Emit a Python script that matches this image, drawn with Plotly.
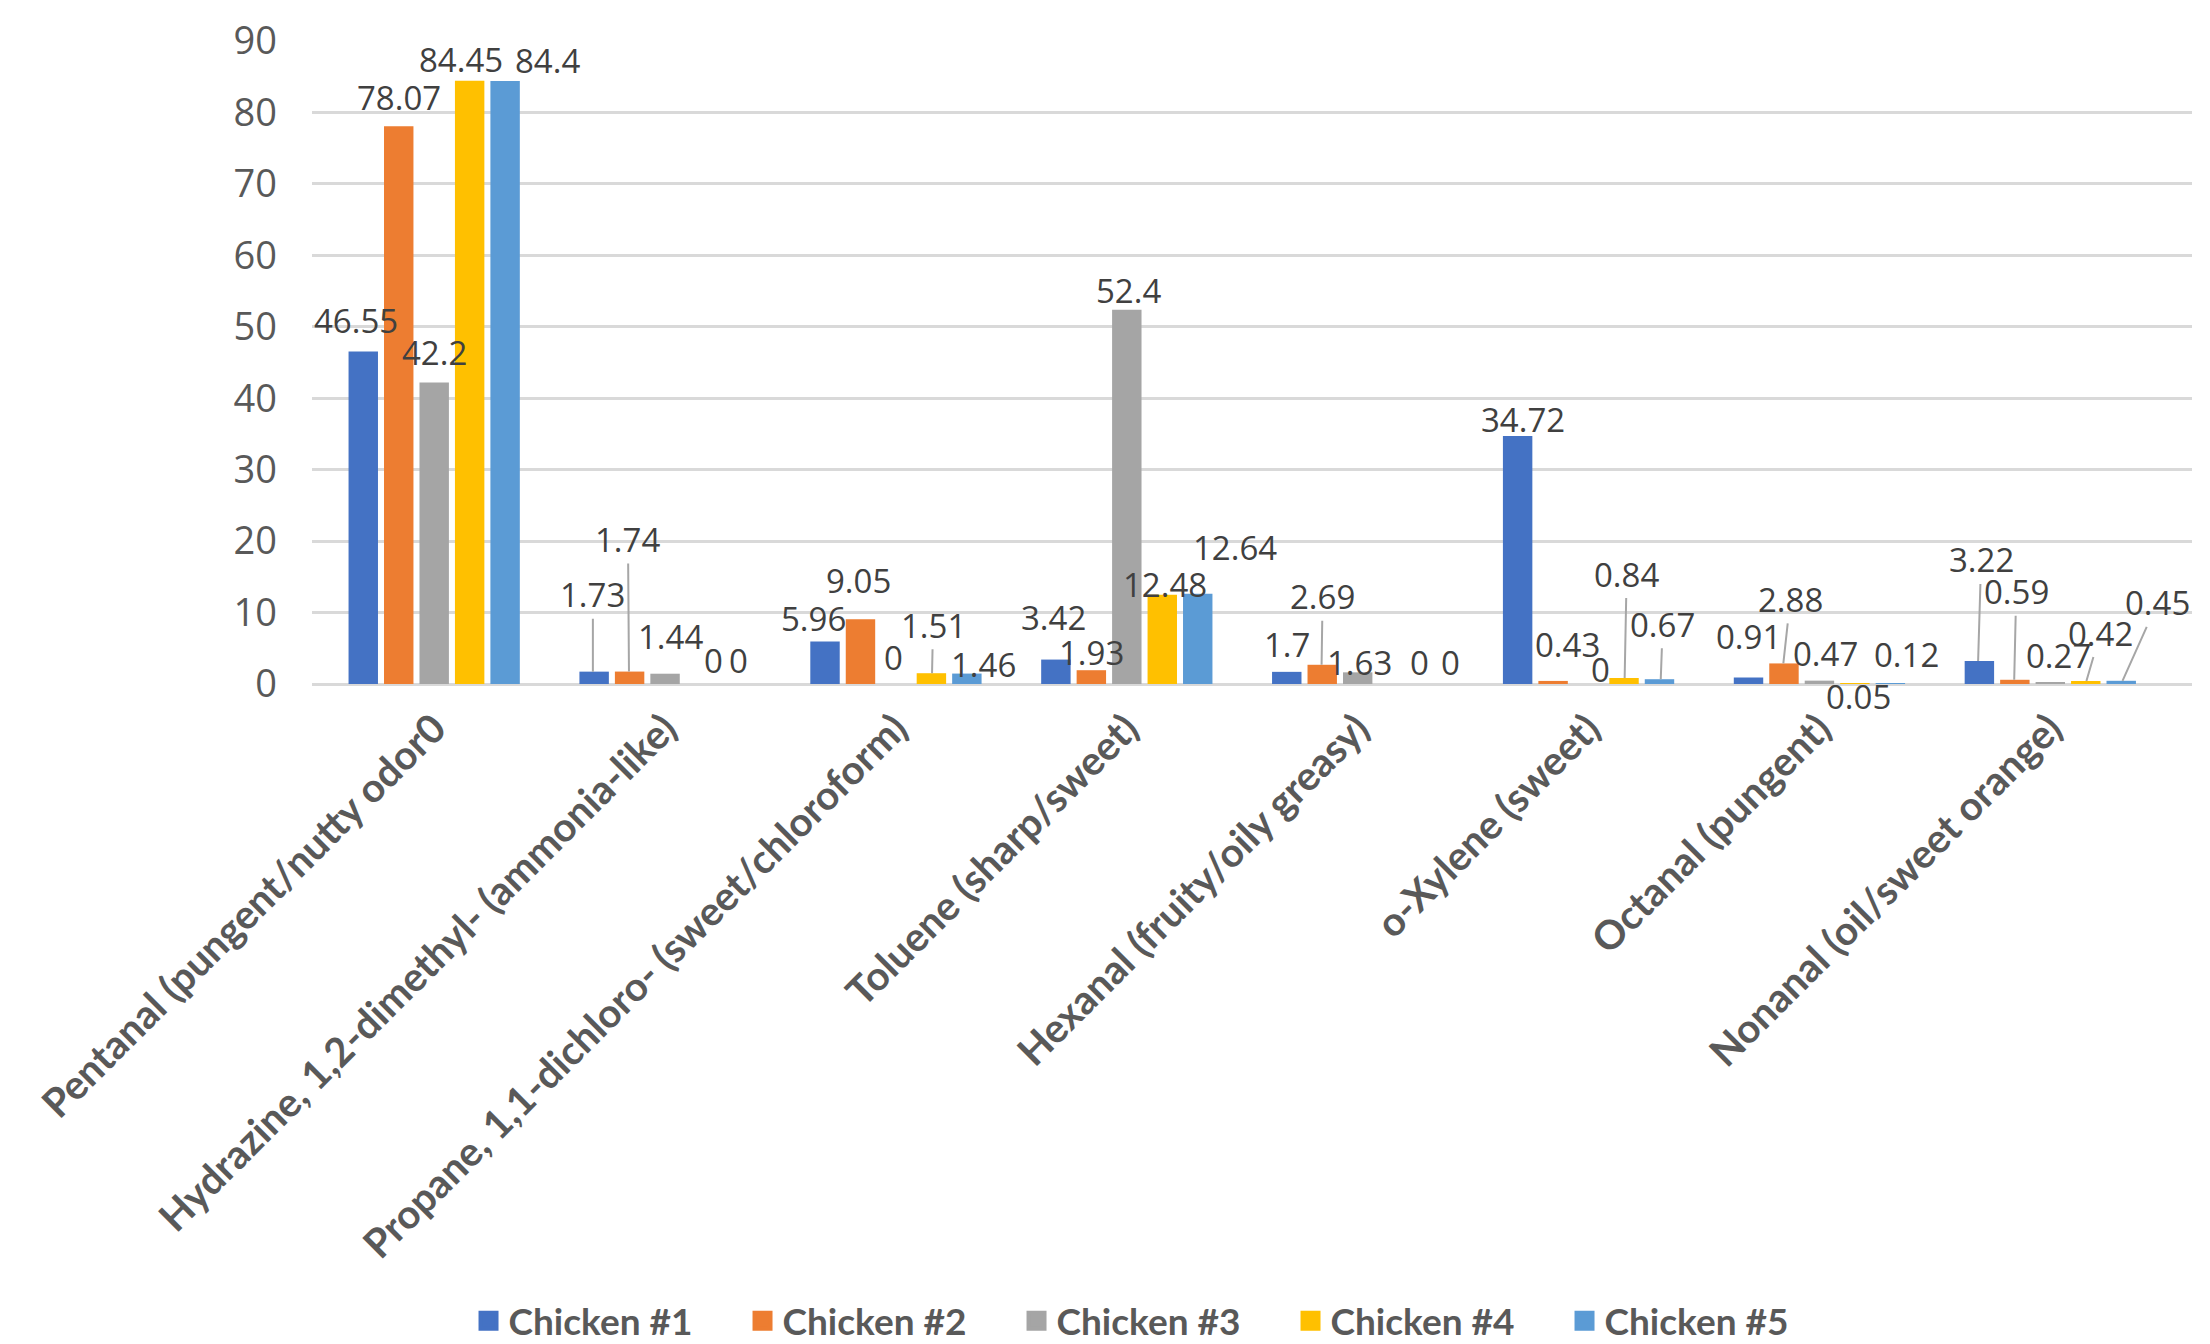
import plotly.graph_objects as go

# ---------------- data ----------------
categories = [
    "Pentanal (pungent/nutty odor0",
    "Hydrazine, 1,2-dimethyl- (ammonia-like)",
    "Propane, 1,1-dichloro- (sweet/chloroform)",
    "Toluene (sharp/sweet)",
    "Hexanal (fruity/oily greasy)",
    "o-Xylene (sweet)",
    "Octanal (pungent)",
    "Nonanal (oil/sweet orange)",
]
series_names = ["Chicken #1", "Chicken #2", "Chicken #3", "Chicken #4", "Chicken #5"]
chicken1 = [46.55, 1.73, 5.96, 3.42, 1.7, 34.72, 0.91, 3.22]
chicken2 = [78.07, 1.74, 9.05, 1.93, 2.69, 0.43, 2.88, 0.59]
chicken3 = [42.2, 1.44, 0, 52.4, 1.63, 0, 0.47, 0.27]
chicken4 = [84.45, 0, 1.51, 12.48, 0, 0.84, 0.05, 0.42]
chicken5 = [84.4, 0, 1.46, 12.64, 0, 0.67, 0.12, 0.45]
series_values = [chicken1, chicken2, chicken3, chicken4, chicken5]
y_ticks = [0, 10, 20, 30, 40, 50, 60, 70, 80, 90]

# ---------------- style ----------------
colors = ["#4472C4", "#ED7D31", "#A5A5A5", "#FFC000", "#5B9BD5"]
W, H = 2210, 1344
M_L, M_R, M_T, M_B = 312, 18, 41, 660
BARGAP, BARGROUPGAP = 0.232, 0.17
cat_px = (W - M_L - M_R) / len(categories)
slot_px = cat_px * (1 - BARGAP) / len(series_names)

# label placement (pixel offsets of label centre from bar top) + leader flag
label_dx = [
    [-6, 0, -10, -1, 2, 7, 1, 3],
    [1, -1, -1, 1, 1, 15, 7, 2],
    [0, 5, -2, 2, 2, 12, 6, 8],
    [-9, 12, 1, 2, 26, 2, 3, 14],
    [41, 1, 15, 36, 21, 2, 15, 35],
]
label_dy = [
    [-31, -77, -23, -42, -27, -16, -41, -101],
    [-29, -132, -39, -18, -68, -36, -64, -88],
    [-30, -37, -27, -19, -10, -15, -27, -27],
    [-21, -24, -48, -10, -22, -104, 13, -48],
    [-21, -24, -9, -46, -22, -55, -29, -78],
]
leader = [
    [0, 1, 0, 0, 0, 0, 0, 1],
    [0, 1, 0, 0, 1, 0, 1, 1],
    [0, 0, 0, 0, 0, 0, 0, 0],
    [0, 0, 1, 0, 0, 1, 0, 1],
    [0, 0, 0, 0, 0, 1, 0, 1],
]

fig = go.Figure()
for name, vals, col in zip(series_names, series_values, colors):
    fig.add_bar(x=categories, y=vals, name=name, marker_color=col,
                marker_line_width=0, showlegend=False, hoverinfo="x+y+name")

# legend proxies (bigger squares)
for name, col in zip(series_names, colors):
    fig.add_scatter(x=[None], y=[None], mode="markers", name=name,
                    marker=dict(symbol="square", size=16, color=col,
                                line=dict(width=4, color=col)))

label_font = dict(family="Open Sans", size=33, color="#404040")
for j, vals in enumerate(series_values):
    base_shift = (j - 2) * slot_px
    for i, v in enumerate(vals):
        txt = f"{v:g}"
        dx, dy = label_dx[j][i], label_dy[j][i]
        if leader[j][i]:
            fig.add_annotation(x=categories[i], y=v, text=txt, font=label_font,
                               xshift=base_shift, showarrow=True, arrowhead=0,
                               arrowwidth=2, arrowcolor="#A6A6A6", ax=dx, ay=dy,
                               standoff=0)
        else:
            fig.add_annotation(x=categories[i], y=v, text=txt, font=label_font,
                               xshift=base_shift + dx, yshift=-dy,
                               showarrow=False, xanchor="center", yanchor="middle")

fig.update_layout(
    width=W, height=H,
    margin=dict(l=M_L, r=M_R, t=M_T, b=M_B, autoexpand=False),
    paper_bgcolor="white", plot_bgcolor="white",
    barmode="group", bargap=BARGAP, bargroupgap=BARGROUPGAP,
    legend=dict(orientation="h", xref="container", yref="container",
                x=0.212, xanchor="left", y=0.017, yanchor="middle",
                font=dict(family="Lato", size=37, color="#595959", weight="bold"),
                entrywidth=229, itemsizing="trace"),
    xaxis=dict(tickangle=-45, showgrid=False, ticks="", showline=False,
               ticklabelstandoff=12,
               tickfont=dict(family="Lato", size=40, color="#595959", weight="bold")),
    yaxis=dict(range=[0, 90], tickvals=y_ticks, showgrid=True, gridcolor="#D9D9D9",
               gridwidth=3, zeroline=True, zerolinecolor="#D9D9D9", zerolinewidth=3,
               ticks="", ticklabelstandoff=34,
               tickfont=dict(family="Open Sans", size=38, color="#595959")),
)

fig.write_html("out.html")
